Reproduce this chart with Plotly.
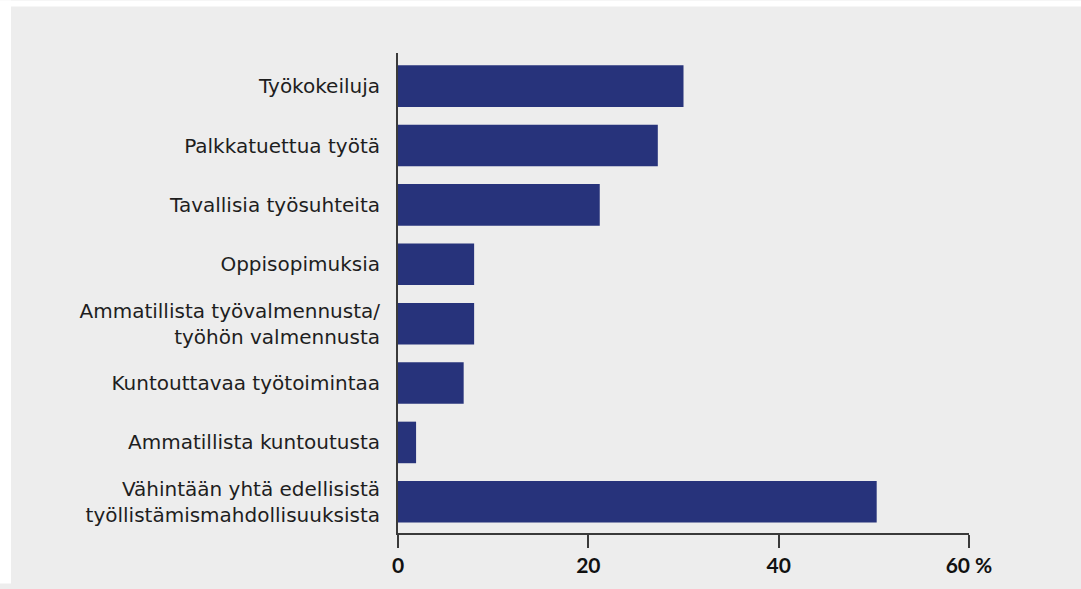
import plotly.graph_objects as go

categories = [
    "Työkokeiluja",
    "Palkkatuettua työtä",
    "Tavallisia työsuhteita",
    "Oppisopimuksia",
    "Ammatillista työvalmennusta/<br>työhön valmennusta",
    "Kuntouttavaa työtoimintaa",
    "Ammatillista kuntoutusta",
    "Vähintään yhtä edellisistä<br>työllistämismahdollisuuksista",
]
values = [30.0, 27.3, 21.2, 8.0, 8.0, 6.9, 1.9, 50.3]
tick_vals = [0, 20, 40, 60]
tick_text = ["<b>0</b>", "<b>20</b>", "<b>40</b>", "<b>60 %</b>"]

BG = "#ededed"
BAR = "#27337b"
AX = "#3a3a3a"

W, H = 1081, 589
ML, MR, MT, MB = 398, 112, 53, 51
PW, PH = W - ML - MR, H - MT - MB

fig = go.Figure(
    go.Bar(
        x=values,
        y=categories,
        orientation="h",
        marker=dict(color=BAR, line=dict(width=0)),
        width=0.7,
        hoverinfo="x+y",
    )
)

fig.update_layout(
    width=W,
    height=H,
    paper_bgcolor=BG,
    plot_bgcolor=BG,
    margin=dict(l=ML, r=MR, t=MT, b=MB),
    showlegend=False,
    font=dict(family="DejaVu Sans, sans-serif", color="#1e1e1e", size=20),
    xaxis=dict(
        range=[0, 60],
        tickvals=tick_vals,
        ticktext=tick_text,
        showgrid=False,
        zeroline=False,
        showline=True,
        linecolor=AX,
        linewidth=2,
        ticks="outside",
        ticklen=13,
        tickwidth=2,
        tickcolor=AX,
        tickfont=dict(family="Lato, sans-serif", size=21, color="#111"),
        fixedrange=True,
    ),
    yaxis=dict(
        range=[7.525, -0.558],
        showgrid=False,
        zeroline=False,
        showline=True,
        linecolor=AX,
        linewidth=2,
        ticks="outside",
        ticklen=12,
        tickcolor="rgba(0,0,0,0)",
        tickfont=dict(size=20, color="#1e1e1e"),
        fixedrange=True,
    ),
)

# white outer frame on the left and top edges of the picture
fig.add_shape(type="rect", xref="paper", yref="paper",
              x0=-ML / PW, x1=-(ML - 11) / PW, y0=-MB / PH, y1=(PH + MT) / PH,
              fillcolor="white", line=dict(width=0), layer="below")
fig.add_shape(type="rect", xref="paper", yref="paper",
              x0=-ML / PW, x1=(PW + MR) / PW, y0=(PH + MT - 6) / PH, y1=(PH + MT) / PH,
              fillcolor="white", line=dict(width=0), layer="below")

fig.write_html(
    "out.html",
    config={"displayModeBar": False},
    post_script=(
        "document.documentElement.style.margin='0';"
        "document.documentElement.style.background='#ededed';"
        "document.documentElement.style.overflow='hidden';"
        "document.body.style.margin='0';"
        "document.body.style.overflow='hidden';"
        "document.body.style.background='#ededed';"
    ),
)
